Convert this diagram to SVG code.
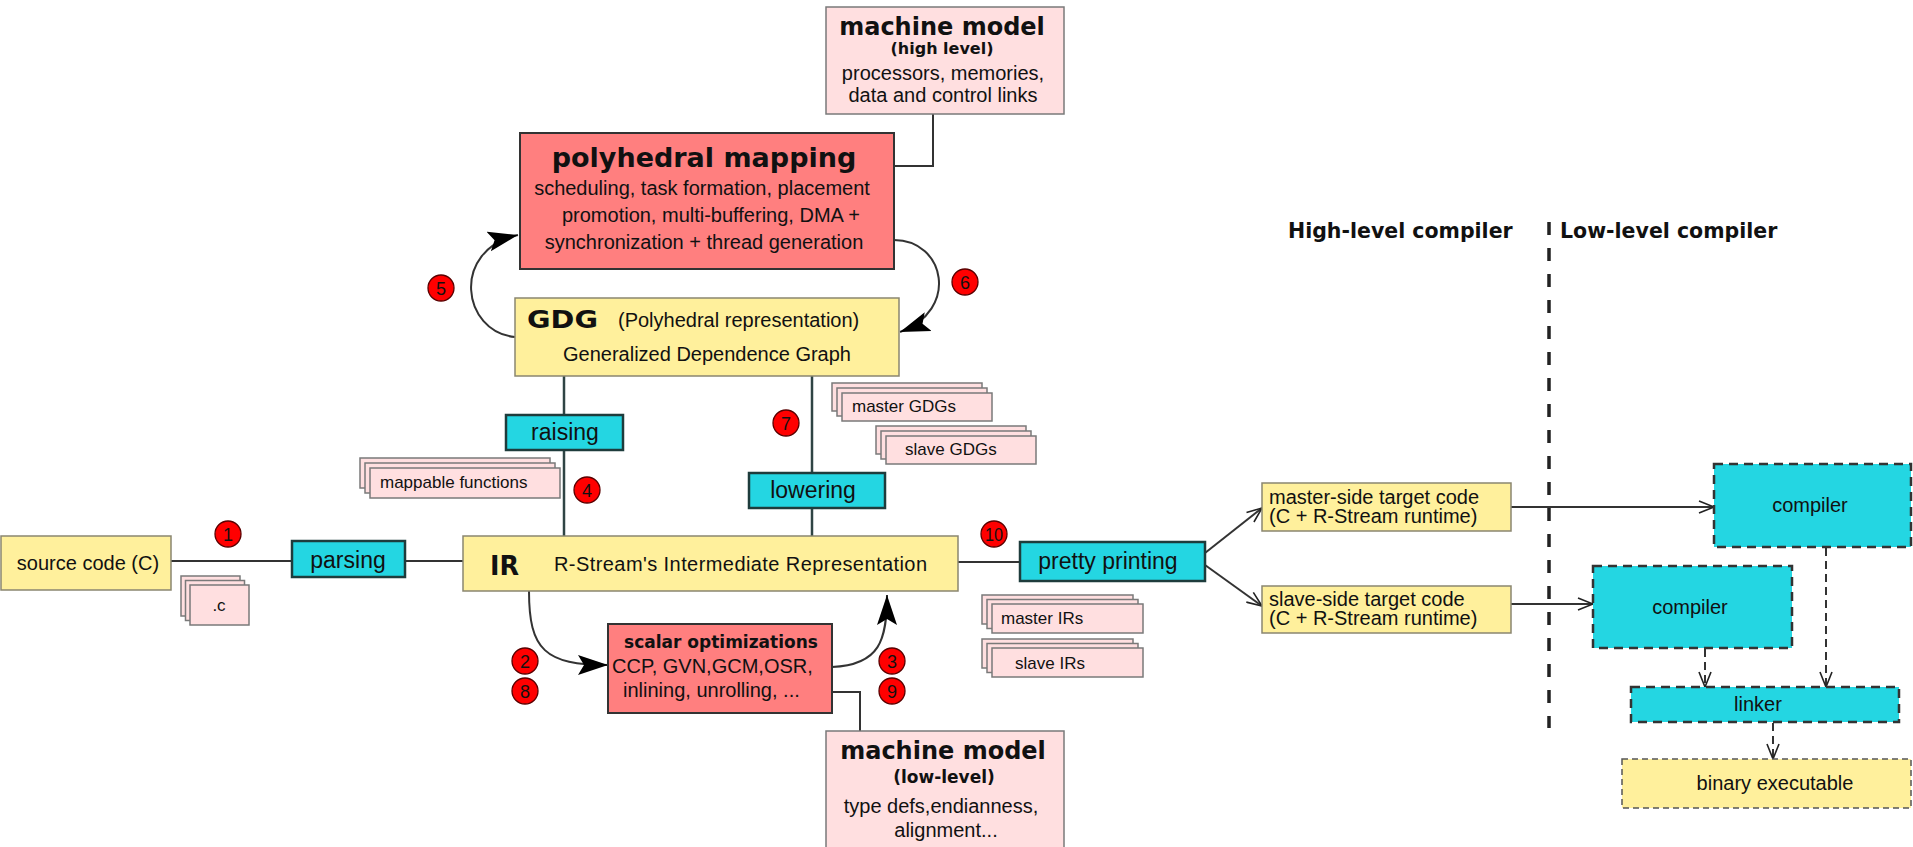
<svg xmlns="http://www.w3.org/2000/svg" width="1913" height="847" viewBox="0 0 1913 847">
<style>
.y{fill:#fff09c;stroke:#8a8670;stroke-width:1.5}
.c{fill:#24d6e2;stroke:#1e3c3c;stroke-width:2.5}
.s{fill:#ff7f7f;stroke:#333;stroke-width:2}
.p{fill:#ffdfe0;stroke:#7a7a7a;stroke-width:1.5}
.cd{fill:#24d6e2;stroke:#333;stroke-width:2.5;stroke-dasharray:9 6}
.yd{fill:#fff09c;stroke:#555;stroke-width:1.5;stroke-dasharray:6 4}
.t{font-family:"Liberation Sans",Arial,sans-serif;font-size:20px;fill:#111}
.tc{font-family:"Liberation Sans",Arial,sans-serif;font-size:23px;fill:#111}
.ts{font-family:"Liberation Sans",Arial,sans-serif;font-size:17px;fill:#111}
.b{font-family:"DejaVu Sans",sans-serif;font-weight:bold;fill:#111}
.m{text-anchor:middle}
.bd circle{fill:#ff0000;stroke:#5a0000;stroke-width:1.3}
.bd text{font-family:"Liberation Sans",Arial,sans-serif;font-size:18px;fill:#111;text-anchor:middle}
.ln{stroke:#333;stroke-width:2;fill:none}
.lv{stroke:#2f4444;stroke-width:2.5;fill:none}
.dl{stroke:#333;stroke-width:2;fill:none;stroke-dasharray:8 5}
</style>
<defs>
<marker id="af" markerUnits="userSpaceOnUse" markerWidth="32" markerHeight="22" refX="30" refY="11" orient="auto">
<path d="M0,1 L30,11 L0,21 L6,11 z" fill="#000"/>
</marker>
<marker id="ao" markerUnits="userSpaceOnUse" markerWidth="18" markerHeight="14" refX="16" refY="7" orient="auto">
<path d="M1,1 L16,7 L1,13" fill="none" stroke="#222" stroke-width="1.6"/>
</marker>
</defs>

<g id="connectors">
<path class="ln" d="M933,114 V166 H894"/>
<path class="lv" d="M564,376 V536"/>
<path class="lv" d="M812,376 V536"/>
<path class="ln" d="M171,561 H292"/>
<path class="ln" d="M405,561 H463"/>
<path class="ln" d="M958,562 H1020"/>
<path class="ln" d="M832,692 H860 V731"/>
<path class="ln" d="M515,337 C462,332 450,250 518,235" marker-end="url(#af)"/>
<path class="ln" d="M894,240 C945,240 960,310 900,332" marker-end="url(#af)"/>
<path class="ln" d="M529,591 C529,650 545,665 608,665" marker-end="url(#af)"/>
<path class="ln" d="M832,667 C880,665 887,640 887,595" marker-end="url(#af)"/>
<path class="ln" d="M1205,553 L1262,508" marker-end="url(#ao)"/>
<path class="ln" d="M1205,565 L1262,606" marker-end="url(#ao)"/>
<path class="ln" d="M1511,507 H1714" marker-end="url(#ao)"/>
<path class="ln" d="M1511,604 H1593" marker-end="url(#ao)"/>
<path class="dl" d="M1826,548 V687" marker-end="url(#ao)"/>
<path class="dl" d="M1705,649 V687" marker-end="url(#ao)"/>
<path class="dl" d="M1773,723 V759" marker-end="url(#ao)"/>
<path d="M1549,222 V728" stroke="#222" stroke-width="3.5" stroke-dasharray="13 13" fill="none"/>
</g>

<g id="mm-high">
<rect class="p" x="826" y="7" width="238" height="107"/>
<text class="b m" x="942" y="35" font-size="24">machine model</text>
<text class="b m" x="942" y="54" font-size="16">(high level)</text>
<text class="t m" x="943" y="80">processors, memories,</text>
<text class="t m" x="943" y="102">data and control links</text>
</g>

<g id="poly">
<rect class="s" x="520" y="133" width="374" height="136"/>
<text class="b m" x="704" y="167" font-size="27">polyhedral mapping</text>
<text class="t m" x="702" y="195">scheduling, task formation, placement</text>
<text class="t m" x="711" y="222">promotion, multi-buffering, DMA +</text>
<text class="t m" x="704" y="249">synchronization + thread generation</text>
</g>

<g id="gdg">
<rect class="y" x="515" y="298" width="384" height="78"/>
<text class="b" x="527" y="328" font-size="25" textLength="71" lengthAdjust="spacingAndGlyphs">GDG</text>
<text class="t" x="618" y="327">(Polyhedral representation)</text>
<text class="t m" x="707" y="361">Generalized Dependence Graph</text>
</g>

<g id="raising">
<rect class="c" x="506" y="415" width="117" height="35"/>
<text class="tc m" x="565" y="440">raising</text>
</g>

<g id="lowering">
<rect class="c" x="749" y="473" width="136" height="35"/>
<text class="tc m" x="813" y="498">lowering</text>
</g>

<g id="mappable">
<rect class="p" x="360" y="458" width="190" height="30"/>
<rect class="p" x="365" y="463" width="190" height="30"/>
<rect class="p" x="370" y="468" width="190" height="30"/>
<text class="ts" x="380" y="488">mappable functions</text>
</g>

<g id="master-gdgs">
<rect class="p" x="832" y="383" width="150" height="28"/>
<rect class="p" x="837" y="388" width="150" height="28"/>
<rect class="p" x="842" y="393" width="150" height="28"/>
<text class="ts" x="852" y="412">master GDGs</text>
</g>

<g id="slave-gdgs">
<rect class="p" x="876" y="426" width="150" height="28"/>
<rect class="p" x="881" y="431" width="150" height="28"/>
<rect class="p" x="886" y="436" width="150" height="28"/>
<text class="ts" x="905" y="455">slave GDGs</text>
</g>

<g id="source">
<rect class="y" x="1" y="536" width="170" height="54"/>
<text class="t m" x="88" y="570">source code (C)</text>
</g>

<g id="dotc">
<rect class="p" x="181" y="576" width="59" height="40"/>
<rect class="p" x="185.5" y="580.5" width="59" height="40"/>
<rect class="p" x="190" y="585" width="59" height="40"/>
<text class="ts m" x="219" y="611">.c</text>
</g>

<g id="parsing">
<rect class="c" x="292" y="541" width="113" height="36"/>
<text class="tc m" x="348" y="568">parsing</text>
</g>

<g id="ir">
<rect class="y" x="463" y="536" width="495" height="55"/>
<text class="b" x="490" y="575" font-size="27" font-family="Liberation Sans" textLength="29" lengthAdjust="spacingAndGlyphs">IR</text>
<text class="t" x="554" y="571" textLength="373" lengthAdjust="spacing">R-Stream's Intermediate Representation</text>
</g>

<g id="scalar">
<rect class="s" x="608" y="624" width="224" height="89"/>
<text class="b m" x="721" y="648" font-size="17">scalar optimizations</text>
<text class="t" x="612" y="673">CCP, GVN,GCM,OSR,</text>
<text class="t" x="623" y="697">inlining, unrolling, ...</text>
</g>

<g id="mm-low">
<rect class="p" x="826" y="731" width="238" height="120"/>
<text class="b m" x="943" y="759" font-size="24">machine model</text>
<text class="b m" x="944" y="783" font-size="17">(low-level)</text>
<text class="t m" x="941" y="813">type defs,endianness,</text>
<text class="t m" x="946" y="837">alignment...</text>
</g>

<g id="pretty">
<rect class="c" x="1020" y="542" width="185" height="39"/>
<text class="tc m" x="1108" y="569">pretty printing</text>
</g>

<g id="master-irs">
<rect class="p" x="982" y="595" width="151" height="29"/>
<rect class="p" x="987" y="599.5" width="151" height="29"/>
<rect class="p" x="992" y="604" width="151" height="29"/>
<text class="ts" x="1001" y="624">master IRs</text>
</g>

<g id="slave-irs">
<rect class="p" x="982" y="639" width="151" height="29"/>
<rect class="p" x="987" y="643.5" width="151" height="29"/>
<rect class="p" x="992" y="648" width="151" height="29"/>
<text class="ts" x="1015" y="669">slave IRs</text>
</g>

<g id="master-side">
<rect class="y" x="1262" y="483" width="249" height="48"/>
<text class="t" x="1269" y="504" font-size="19.5">master-side target code</text>
<text class="t" x="1269" y="523" font-size="19.5">(C + R-Stream runtime)</text>
</g>

<g id="slave-side">
<rect class="y" x="1262" y="586" width="249" height="47"/>
<text class="t" x="1269" y="606" font-size="19.5">slave-side target code</text>
<text class="t" x="1269" y="625" font-size="19.5">(C + R-Stream runtime)</text>
</g>

<g id="headers">
<text class="b" x="1288" y="238" font-size="20.5">High-level compiler</text>
<text class="b" x="1560" y="238" font-size="20.5">Low-level compiler</text>
</g>

<g id="compiler-master">
<rect class="cd" x="1714" y="464" width="197" height="83"/>
<text class="t m" x="1810" y="512">compiler</text>
</g>

<g id="compiler-slave">
<rect class="cd" x="1593" y="566" width="199" height="82"/>
<text class="t m" x="1690" y="614">compiler</text>
</g>

<g id="linker">
<rect class="cd" x="1631" y="687" width="268" height="35"/>
<text class="t m" x="1758" y="711">linker</text>
</g>

<g id="binary">
<rect class="yd" x="1622" y="759" width="289" height="49"/>
<text class="t m" x="1775" y="790">binary executable</text>
</g>

<g id="badges" class="bd">
<g id="b1"><circle cx="228" cy="534" r="13"/><text x="228" y="540.5">1</text></g>
<g id="b2"><circle cx="525" cy="661" r="13"/><text x="525" y="667.5">2</text></g>
<g id="b8"><circle cx="525" cy="691" r="13"/><text x="525" y="697.5">8</text></g>
<g id="b3"><circle cx="892" cy="661" r="13"/><text x="892" y="667.5">3</text></g>
<g id="b9"><circle cx="892" cy="691" r="13"/><text x="892" y="697.5">9</text></g>
<g id="b4"><circle cx="587" cy="490" r="13"/><text x="587" y="496.5">4</text></g>
<g id="b5"><circle cx="441" cy="288" r="13"/><text x="441" y="294.5">5</text></g>
<g id="b6"><circle cx="965" cy="282" r="13"/><text x="965" y="288.5">6</text></g>
<g id="b7"><circle cx="786" cy="423" r="13"/><text x="786" y="429.5">7</text></g>
<g id="b10"><circle cx="994" cy="534" r="13"/><text x="994" y="540.5" textLength="18" lengthAdjust="spacingAndGlyphs">10</text></g>
</g>
</svg>
